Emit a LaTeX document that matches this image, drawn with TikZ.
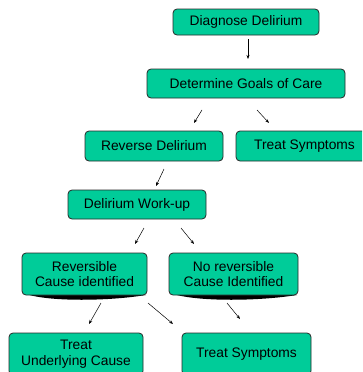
\documentclass[tikz,border=0pt]{standalone}
\usepackage{fontspec}
\setmainfont{Liberation Sans}
\usetikzlibrary{arrows.meta}
\definecolor{boxgreen}{RGB}{0,204,153}
\definecolor{boxedge}{RGB}{40,40,40}
\tikzset{
  box/.style={draw=boxedge, line width=0.8pt, fill=boxgreen, rounded corners=4pt,
    font=\fontsize{13.8}{15.5}\selectfont, align=center, inner sep=0pt},
  arr/.style={-{Stealth[length=4pt,width=3pt]}, line width=0.5pt, black},
  shade/.style={fill=black, draw=none}
}
\begin{document}
\begin{tikzpicture}[x=1pt,y=-1pt]
\useasboundingbox (0,0) rectangle (362,372);
\clip (0,0) rectangle (362,372);
% shadows under two boxes
\path[shade] (26,294) .. controls (50,302) and (110,301) .. (146,295) -- cycle;
\path[shade] (173,294) .. controls (200,302) and (260,301) .. (297,295) -- cycle;
% boxes
\node[box, minimum width=146pt, minimum height=26pt] (diag) at (246,22) {Diagnose Delirium};
\node[box, minimum width=198pt, minimum height=29pt] (goals) at (246,83.5) {Determine Goals of Care};
\node[box, minimum width=138pt, minimum height=30pt] (rev) at (154,146) {Reverse Delirium};
\node[box, minimum width=137pt, minimum height=30pt] (ts1) at (304.5,146) {Treat Symptoms};
\node[box, minimum width=138pt, minimum height=29pt] (work) at (137,204.5) {Delirium Work-up};
\node[box, minimum width=125pt, minimum height=42pt] (rc) at (84.5,274) {Reversible\\Cause identified};
\node[box, minimum width=129pt, minimum height=42pt] (nrc) at (233.5,274) {No reversible\\Cause Identified};
\node[box, minimum width=134pt, minimum height=42pt] (tuc) at (76,354) {Treat\\Underlying Cause};
\node[box, minimum width=129pt, minimum height=42pt] (ts2) at (246.5,354) {Treat Symptoms};
% connector end points
\coordinate (a1s) at (248,39);  \coordinate (a1e) at (248,59);
\coordinate (a2s) at (202,110); \coordinate (a2e) at (194,123);
\coordinate (a3s) at (257,110); \coordinate (a3e) at (269,123);
\coordinate (a4s) at (164,169); \coordinate (a4e) at (156,186);
\coordinate (a5s) at (144,228); \coordinate (a5e) at (135,244);
\coordinate (a6s) at (181,228); \coordinate (a6e) at (194,244);
\coordinate (a7s) at (101,303); \coordinate (a7e) at (89,324);
\coordinate (a8s) at (148,303); \coordinate (a8e) at (173,324);
\coordinate (a9s) at (227,303); \coordinate (a9e) at (240,319);
\foreach \i in {1,...,9} \draw[arr] (a\i s) -- (a\i e);
\end{tikzpicture}
\end{document}
